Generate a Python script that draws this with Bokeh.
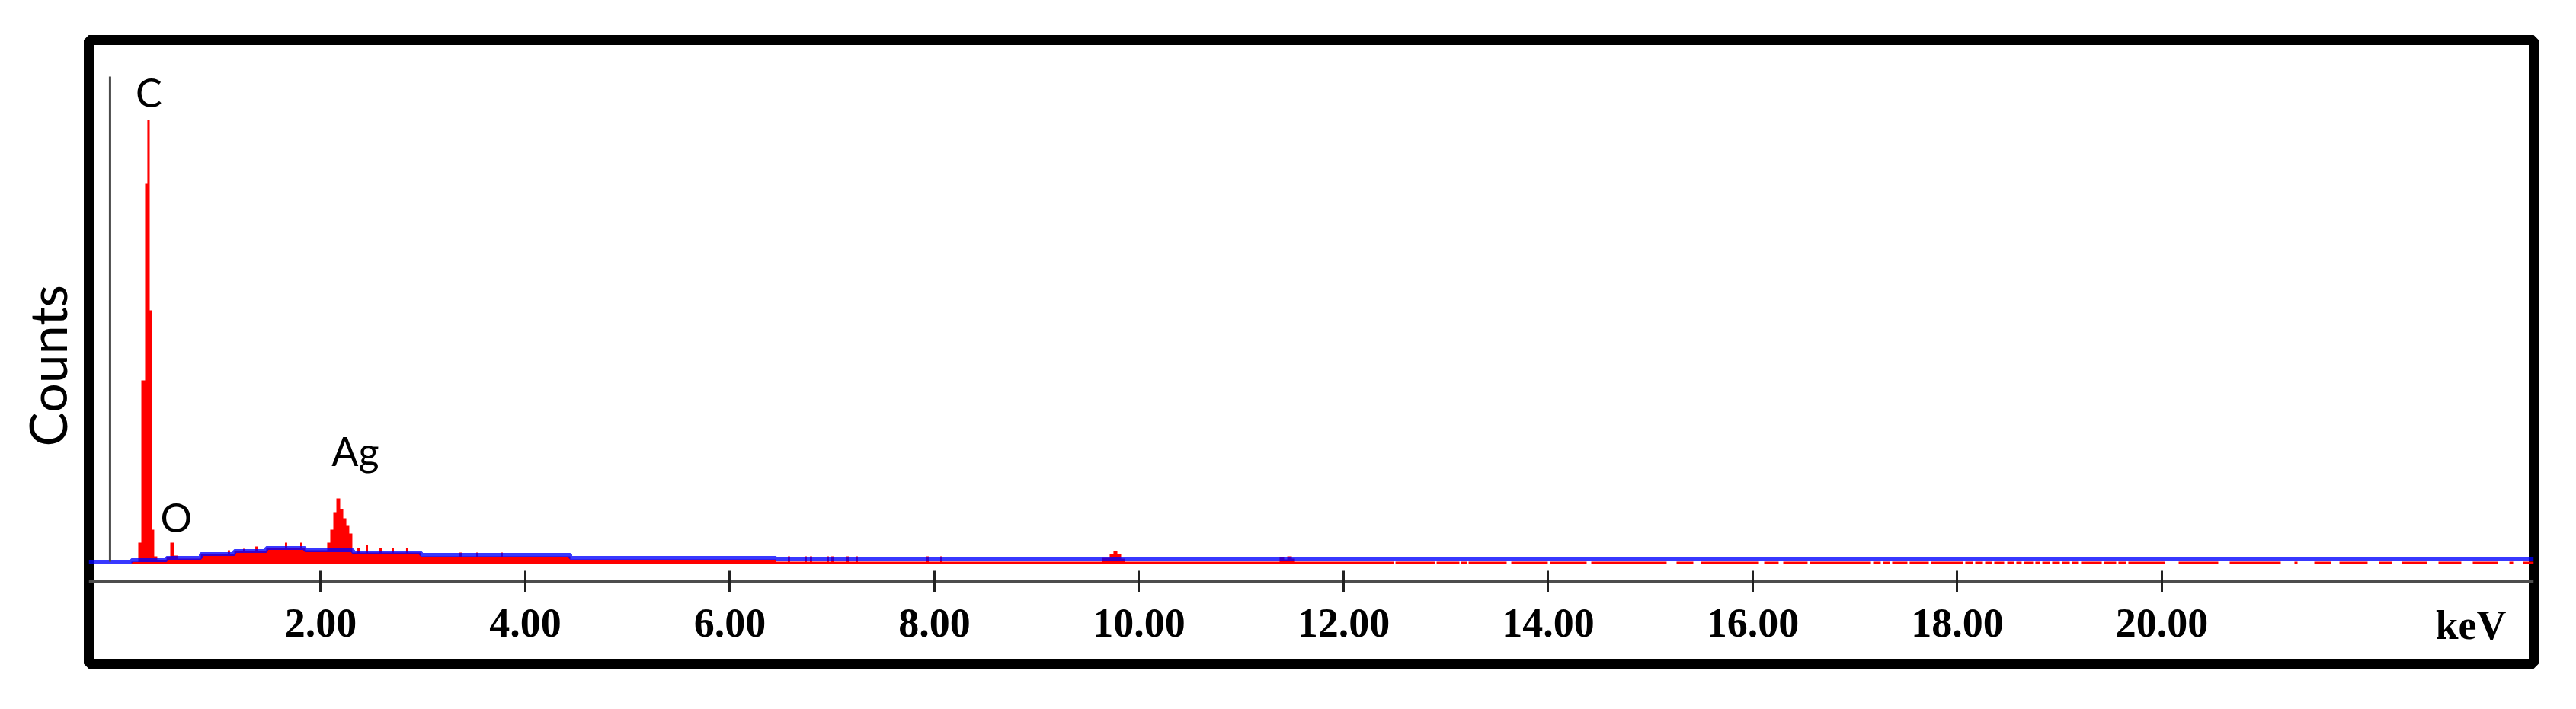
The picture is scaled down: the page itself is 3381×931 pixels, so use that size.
from bokeh.plotting import figure
from bokeh.models import (LinearAxis, FixedTicker, PrintfTickFormatter,
                          CustomJSTickFormatter, Range1d, ColumnDataSource, Title)
from bokeh.core.properties import value
from bokeh.embed import file_html
from bokeh.resources import INLINE

# ---------------- data (energy in keV, intensity in counts) ----------------
# measured spectrum: each count holds from its edge until the next edge
spectrum_edges_kev = [-0.268, 0.149, 0.216, 0.246, 0.283, 0.305, 0.328, 0.350, 0.372,
                      0.402, 0.492, 0.529, 0.566, 0.603, 0.827, 1.155, 1.467, 1.847,
                      2.063, 2.093, 2.123, 2.153, 2.190, 2.220, 2.250, 2.279, 2.309,
                      2.980, 4.440, 6.451, 9.639, 9.713, 9.750, 9.788, 9.825, 9.862,
                      11.374, 11.419, 11.449, 11.494, 11.524]
spectrum_counts = [0, 15, 140, 1205, 2500, 2915, 1665, 225, 50,
                   25, 45, 140, 55, 35, 65, 85, 105, 90,
                   140, 225, 340, 430, 360, 300, 250, 200, 75,
                   50, 30, 15, 40, 65, 85, 65, 35, 15,
                   45, 30, 50, 35, 15]
high_energy_level = 15
# channels with no counts at high energy (start, end)
gap_start_kev = [12.492, 12.894, 13.132, 13.207, 13.594, 13.996, 14.376, 15.158, 15.419,
                 16.060, 16.253, 16.536, 17.155, 17.251, 17.341, 17.512, 17.721, 18.056,
                 18.153, 18.250, 18.339, 18.458, 18.555, 18.629, 18.741, 18.808, 18.905,
                 19.002, 19.099, 19.188, 19.412, 19.553, 19.650, 20.030, 20.551, 21.162,
                 21.326, 21.654, 22.011, 22.250, 22.592, 22.927, 23.285, 23.434]
gap_end_kev = [12.507, 12.909, 13.147, 13.222, 13.639, 14.019, 14.421, 15.255, 15.493,
               16.112, 16.298, 16.559, 17.177, 17.274, 17.363, 17.534, 17.743, 18.078,
               18.175, 18.272, 18.361, 18.488, 18.577, 18.652, 18.763, 18.831, 18.927,
               19.024, 19.121, 19.210, 19.434, 19.575, 19.672, 20.164, 20.663, 21.296,
               21.490, 21.736, 22.123, 22.346, 22.704, 23.039, 23.397, 23.531]
# single-channel noise spikes
spike_kev = [1.102, 1.251, 1.371, 1.661, 1.810, 2.369, 2.451, 2.585, 2.704, 2.845,
             3.367, 3.531, 3.769, 6.577, 6.741, 6.793, 6.957, 7.002, 7.151, 7.240,
             7.933, 8.067]
spike_counts = [90, 100, 115, 140, 140, 105, 125, 105, 105, 105,
                75, 75, 75, 50, 50, 50, 50, 50, 50, 50,
                50, 50]
# background (blue) step line
background_edges_kev = [-0.268, 0.149, 0.492, 0.827, 1.155, 1.467, 1.847, 2.317,
                        2.980, 4.440, 6.451]
background_counts = [15, 25, 40, 65, 85, 105, 90, 75, 60, 40, 30]

peak_names = ["C", "O", "Ag"]
peak_label_kev = [0.320, 0.588, 2.339]
peak_label_counts = [3100, 310, 745]

tick_values = [2, 4, 6, 8, 10, 12, 14, 16, 18, 20]
unit_label_kev = [23.02]
unit_label = "keV"
y_title = "Counts"

X_START, X_END = -0.268, 23.635
Y_START, Y_END = -655, 3440
AXIS_LEVEL = -115          # counts level where the energy axis is drawn
MARKER_KEV = -0.06         # vertical reference line
MARKER_BOTTOM, MARKER_TOP = 15, 3200

# ---------------- build step series ----------------
sx = list(spectrum_edges_kev)
sy = list(spectrum_counts)
for a, b in zip(gap_start_kev, gap_end_kev):
    sx += [a, b]
    sy += [0, high_energy_level]
sx.append(X_END)
sy.append(sy[-1])

bx = list(background_edges_kev) + [X_END]
by = list(background_counts) + [background_counts[-1]]

spec_src = ColumnDataSource(dict(x=sx, y1=[0] * len(sx), y2=sy))
bg_src = ColumnDataSource(dict(x=bx, y=by))

# ---------------- figure ----------------
p = figure(width=3381, height=931, output_backend="svg", toolbar_location=None,
           x_range=Range1d(X_START, X_END), y_range=Range1d(Y_START, Y_END),
           min_border_left=116, min_border_right=56, min_border_top=52,
           min_border_bottom=60)
p.xgrid.visible = False
p.ygrid.visible = False
p.outline_line_color = "black"
p.outline_line_width = 13
p.outline_line_alpha = 1.0
p.background_fill_color = "white"
p.border_fill_color = "white"

p.varea_step(x="x", y1="y1", y2="y2", step_mode="after", source=spec_src,
             fill_color="#ff0000")
p.vbar(x=spike_kev, top=spike_counts, bottom=0, width=0.022,
       fill_color="#ff0000", line_color=None)
p.step(x="x", y="y", source=bg_src, mode="after", line_color="#0000ff",
       line_width=5, line_alpha=0.78)
p.segment(x0=[MARKER_KEV], y0=[MARKER_BOTTOM], x1=[MARKER_KEV], y1=[MARKER_TOP],
          line_color="#4a4a4a", line_width=3)

p.text(x=peak_label_kev, y=peak_label_counts, text=peak_names,
       text_font=value("Lato"), text_font_size="52px", text_color="black",
       text_align="center", text_baseline="middle")

# energy axis inside the frame
xa = p.xaxis[0]
xa.fixed_location = AXIS_LEVEL
xa.ticker = FixedTicker(ticks=tick_values)
xa.formatter = PrintfTickFormatter(format="%.2f")
xa.major_tick_in = 14
xa.major_tick_out = 14
xa.major_tick_line_width = 3
xa.major_tick_line_color = "#222222"
xa.minor_tick_line_color = None
xa.axis_line_color = "#4d4d4d"
xa.axis_line_width = 4
xa.major_label_text_font = "Liberation Serif"
xa.major_label_text_font_style = "bold"
xa.major_label_text_font_size = "54px"
xa.major_label_text_color = "black"
xa.major_label_standoff = 22

ka = LinearAxis(fixed_location=AXIS_LEVEL,
                ticker=FixedTicker(ticks=unit_label_kev),
                formatter=CustomJSTickFormatter(code="return '%s'" % unit_label),
                axis_line_color=None, major_tick_line_alpha=0,
                minor_tick_line_color=None, major_tick_in=14, major_tick_out=14,
                major_label_text_font="Liberation Serif",
                major_label_text_font_style="bold",
                major_label_text_font_size="54px",
                major_label_text_color="black",
                major_label_standoff=13)
p.add_layout(ka, "below")

p.yaxis.visible = False

p.add_layout(Title(text=y_title, align="left", offset=285, standoff=30,
                   vertical_align="bottom", text_font="Lato",
                   text_font_style="normal", text_font_size="68px",
                   text_color="black"), "left")

open("out.html", "w").write(file_html(p, INLINE))
